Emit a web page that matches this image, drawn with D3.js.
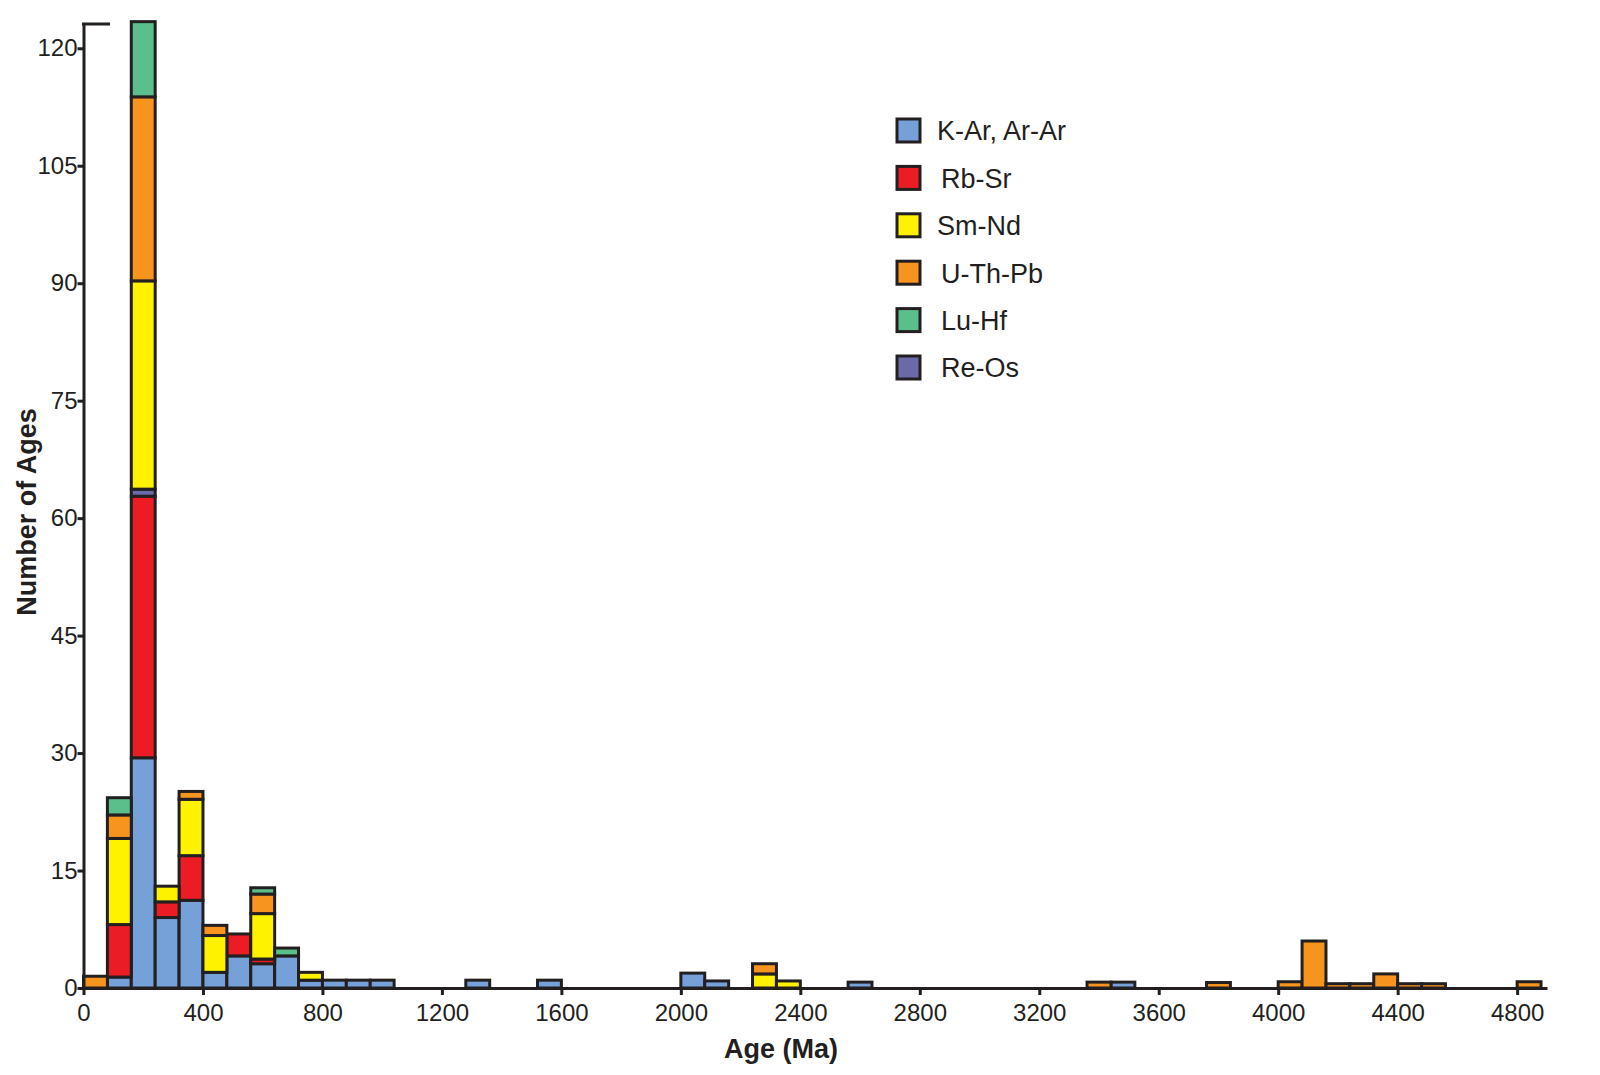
<!DOCTYPE html>
<html>
<head>
<meta charset="utf-8">
<script src="https://cdn.jsdelivr.net/npm/d3@7"></script>
<style>
  body { margin: 0; background: #ffffff; }
  text { font-family: "Liberation Sans", Arial, sans-serif; fill: #231f20; }
</style>
</head>
<body>
<div id="contenedor"></div>
<script>
const ANCHO = 1600;
const ALTO = 1075;
const ANCHO_BIN = 80;

// inicio de cada intervalo (Ma)
const binStarts = d3.range(0, 4880 + 1, ANCHO_BIN);

// [inicio del intervalo, número de edades]
const kAr = [[80, 1.4], [160, 29.4], [240, 9], [320, 11.2], [400, 2], [480, 4.1], [560, 3.1], [640, 4.1],
    [720, 1], [800, 1], [880, 1], [960, 1], [1280, 1], [1520, 1], [2000, 1.9], [2080, 0.9],
    [2560, 0.75], [3440, 0.75]];
const rbSr = [[80, 6.7], [160, 33.4], [240, 2], [320, 5.7], [480, 2.8], [560, 0.6]];
const reOs = [[160, 0.9]];
const smNd = [[80, 11], [160, 26.6], [240, 2], [320, 7.2], [400, 4.7], [560, 5.8], [720, 1],
    [2240, 1.8], [2320, 0.9]];
const uThPb = [[0, 1.5], [80, 3], [160, 23.5], [320, 1], [400, 1.3], [560, 2.5], [2240, 1.3],
    [3360, 0.75], [3760, 0.7], [4000, 0.8], [4080, 6], [4160, 0.55], [4240, 0.55], [4320, 1.8],
    [4400, 0.55], [4480, 0.55], [4800, 0.8]];
const luHf = [[80, 2.2], [160, 9.6], [560, 0.8], [640, 1]];

const xTicks = d3.range(0, 4800 + 1, 400);
const yTicks = d3.range(0, 120 + 1, 15);

// orden de apilado (de abajo hacia arriba)
const series = [
    {key: "kAr", nombre: "K-Ar, Ar-Ar", datos: kAr, color: "#76a0d8"},
    {key: "rbSr", nombre: "Rb-Sr", datos: rbSr, color: "#ec1c24"},
    {key: "reOs", nombre: "Re-Os", datos: reOs, color: "#6a6aa8"},
    {key: "smNd", nombre: "Sm-Nd", datos: smNd, color: "#fff200"},
    {key: "uThPb", nombre: "U-Th-Pb", datos: uThPb, color: "#f7941e"},
    {key: "luHf", nombre: "Lu-Hf", datos: luHf, color: "#5bbf8b"},
];
// orden de la leyenda
const ordenLeyenda = ["kAr", "rbSr", "smNd", "uThPb", "luHf", "reOs"];

const COLOR_BORDE = "#231f20";

const tabla = binStarts.map(b => {
    const fila = {inicio: b};
    for (const s of series) {
        const v = s.datos.find(d => d[0] === b);
        fila[s.key] = v ? v[1] : 0;
    }
    return fila;
});

const apilado = d3.stack().keys(series.map(s => s.key))(tabla);

const x = d3.scaleLinear().domain([0, 4900]).range([83.5, 1547]);
const y = d3.scaleLinear().domain([0, 123.1]).range([988, 24]);

const $svg = d3.select("#contenedor")
    .append("svg")
    .attr("width", ANCHO)
    .attr("height", ALTO);

// barras
const colorDe = {};
series.forEach(s => colorDe[s.key] = s.color);

$svg.append("g")
    .selectAll("g")
    .data(apilado)
    .join("g")
    .attr("fill", d => colorDe[d.key])
    .selectAll("rect")
    .data(d => d.filter(p => p[1] - p[0] > 0))
    .join("rect")
    .attr("x", p => x(p.data.inicio))
    .attr("width", p => x(p.data.inicio + ANCHO_BIN) - x(p.data.inicio))
    .attr("y", p => y(p[1]))
    .attr("height", p => y(p[0]) - y(p[1]))
    .attr("stroke", COLOR_BORDE)
    .attr("stroke-width", 3);

// eje x
const ejeX = $svg.append("g")
    .attr("transform", `translate(0,${y(0)})`)
    .call(d3.axisBottom(x).tickValues(xTicks).tickSize(7).tickSizeOuter(0).tickFormat(d3.format("d")));
ejeX.select(".domain").attr("stroke", COLOR_BORDE).attr("stroke-width", 3);
ejeX.selectAll(".tick line").attr("stroke", COLOR_BORDE).attr("stroke-width", 3);
ejeX.selectAll(".tick text")
    .attr("y", 16)
    .attr("font-size", 24)
    .attr("font-family", "Liberation Sans, Arial, sans-serif")
    .attr("fill", COLOR_BORDE);

// eje y
const ejeY = $svg.append("g")
    .attr("transform", `translate(${x(0)},0)`)
    .call(d3.axisLeft(y).tickValues(yTicks).tickSize(6).tickSizeOuter(0));
ejeY.select(".domain").attr("stroke", COLOR_BORDE).attr("stroke-width", 3);
ejeY.selectAll(".tick line").attr("stroke", COLOR_BORDE).attr("stroke-width", 3);
ejeY.selectAll(".tick text")
    .attr("x", -6)
    .attr("font-size", 24)
    .attr("font-family", "Liberation Sans, Arial, sans-serif")
    .attr("fill", COLOR_BORDE);

// remate superior del eje y
$svg.append("line")
    .attr("x1", x(0) - 1.5)
    .attr("x2", 110)
    .attr("y1", y.range()[1])
    .attr("y2", y.range()[1])
    .attr("stroke", COLOR_BORDE)
    .attr("stroke-width", 3);

// títulos
$svg.append("text")
    .attr("x", 781)
    .attr("y", 1058)
    .attr("text-anchor", "middle")
    .attr("font-size", 27)
    .attr("font-weight", "bold")
    .text("Age (Ma)");

$svg.append("text")
    .attr("transform", "translate(36,512) rotate(-90)")
    .attr("text-anchor", "middle")
    .attr("font-size", 27)
    .attr("font-weight", "bold")
    .text("Number of Ages");

// leyenda
const leyenda = $svg.append("g")
    .selectAll("g")
    .data(ordenLeyenda.map(k => series.find(s => s.key === k)))
    .join("g")
    .attr("transform", (d, i) => `translate(897,${119 + i * 47.4})`);

leyenda.append("rect")
    .attr("width", 23)
    .attr("height", 23)
    .attr("fill", d => d.color)
    .attr("stroke", COLOR_BORDE)
    .attr("stroke-width", 3);

leyenda.append("text")
    .attr("x", d => d.key === "kAr" || d.key === "smNd" ? 40 : 44)
    .attr("y", 12)
    .attr("dy", "0.35em")
    .attr("font-size", 27)
    .text(d => d.nombre);
</script>
</body>
</html>
